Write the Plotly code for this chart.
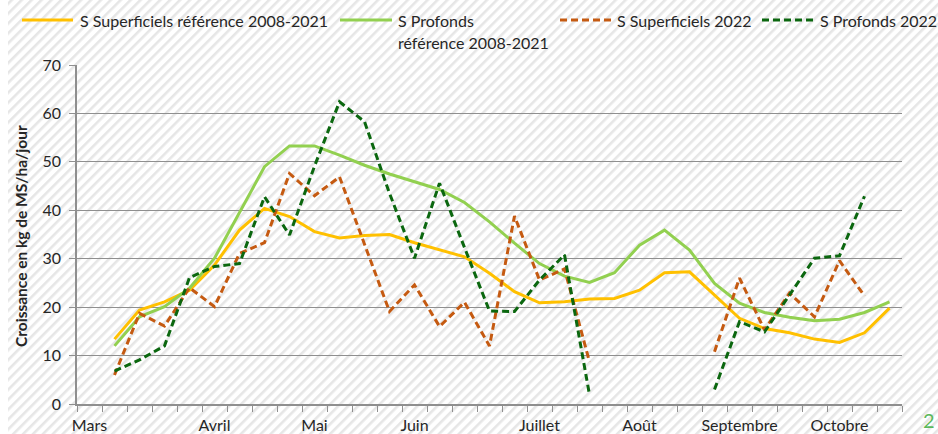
import base64
import plotly.graph_objects as go

# Weekly grass growth (kg DM/ha/day), weeks from early March to end of October
weeks = list(range(33))
month_pos = [0, 5, 9, 13, 18, 22, 26, 30]
month_names = ["Mars", "Avril", "Mai", "Juin", "Juillet", "Août", "Septembre", "Octobre"]

ref_superficiels = [None, 13.4, 19.4, 21.1, 23.5, 28.7, 35.9, 40.4, 38.7, 35.6, 34.3,
                    34.8, 35.0, 33.3, 31.8, 30.4, 27.0, 23.2, 20.9, 21.1, 21.7, 21.8,
                    23.5, 27.1, 27.3, 22.5, 17.7, 15.6, 14.7, 13.4, 12.7, 14.7, 19.8]
ref_profonds = [None, 12.0, 18.0, 20.1, 23.9, 30.1, 39.4, 49.0, 53.3, 53.3, 51.4,
                49.3, 47.5, 45.9, 44.3, 41.6, 37.6, 33.2, 29.0, 26.4, 25.1, 27.1,
                32.8, 35.9, 31.8, 24.9, 20.8, 18.9, 17.9, 17.2, 17.5, 18.9, 21.1]
superficiels_2022 = [None, 6.0, 18.7, 16.1, 24.0, 20.1, 31.1, 33.3, 47.6, 43.0, 46.9,
                     33.0, 19.1, 24.6, 16.0, 21.0, 12.0, 38.8, 25.6, 27.9, 8.7, None,
                     None, None, None, 10.8, 26.0, 15.3, 22.9, 18.0, 29.6, 22.3, None]
profonds_2022 = [None, 6.8, 9.1, 12.0, 26.1, 28.4, 29.0, 42.8, 34.9, 49.1, 62.4,
                 58.3, 43.5, 30.1, 45.6, 32.3, 19.2, 19.1, 25.6, 30.8, 1.9, None,
                 None, None, None, 3.0, 17.0, 14.9, 22.5, 30.1, 30.6, 42.9, None]

y_ticks = [0, 10, 20, 30, 40, 50, 60, 70]

C_REF_SUP = "#FFC000"
C_REF_PRO = "#92D050"
C_SUP_22 = "#C55A11"
C_PRO_22 = "#0B670F"
GRID = "#8F8F8F"
TEXT = "#262626"
DASH = "7px,4px"
FONT = "Lato"

W, H = 938, 434
L, R, T, B = 77, 36, 65, 30
PW, PH = W - L - R, H - T - B


def px_x(x):
    return (x - L) / PW


def px_y(y):
    return (H - B - y) / PH


series = [
    ("S Superficiels référence 2008-2021", ref_superficiels, C_REF_SUP, "solid"),
    ("S Profonds référence 2008-2021", ref_profonds, C_REF_PRO, "solid"),
    ("S Superficiels 2022", superficiels_2022, C_SUP_22, DASH),
    ("S Profonds 2022", profonds_2022, C_PRO_22, DASH),
]

fig = go.Figure()
for name, vals, color, dash in series:
    fig.add_trace(go.Scatter(
        x=weeks, y=vals, name=name, mode="lines", connectgaps=False,
        line=dict(color=color, width=3, dash=dash), showlegend=False,
    ))

# Diagonal hatched page background
svg = (
    f'<svg xmlns="http://www.w3.org/2000/svg" width="{W}" height="{H}">'
    '<defs><pattern id="h" width="7" height="7" patternUnits="userSpaceOnUse" '
    'patternTransform="rotate(45)"><rect width="2.6" height="7" fill="#e6e6e6"/></pattern></defs>'
    f'<rect x="8" y="0" width="{W - 8}" height="{H}" fill="url(#h)"/></svg>'
)
hatch = "data:image/svg+xml;base64," + base64.b64encode(svg.encode()).decode()

# Legend drawn along the top
legend_items = [
    (22, 73, C_REF_SUP, "solid", ["S Superficiels référence 2008-2021"], 78),
    (340, 392, C_REF_PRO, "solid", ["S Profonds", "référence 2008-2021"], 396),
    (560, 612, C_SUP_22, "dash", ["S Superficiels 2022"], 615),
    (762, 815, C_PRO_22, "dash", ["S Profonds 2022"], 818),
]
shapes = []
annotations = []
for x0, x1, color, dash, lines, tx in legend_items:
    shapes.append(dict(
        type="line", xref="paper", yref="paper",
        x0=px_x(x0), x1=px_x(x1), y0=px_y(20), y1=px_y(20),
        line=dict(color=color, width=3, dash=DASH if dash == "dash" else "solid"),
    ))
    for i, txt in enumerate(lines):
        annotations.append(dict(
            text=txt, xref="paper", yref="paper", x=px_x(tx), y=px_y(20 + 22 * i),
            xanchor="left", yanchor="middle", showarrow=False,
            font=dict(family=FONT, size=16, color=TEXT),
        ))

# Y axis title
annotations.append(dict(
    text="<b>Croissance en kg de MS/ha/jour</b>", xref="paper", yref="paper",
    x=px_x(21), y=px_y(236), xanchor="center", yanchor="middle", textangle=-90,
    showarrow=False, font=dict(family=FONT, size=15.5, color=TEXT),
))

# Page number in the bottom-right corner
annotations.append(dict(
    text="2", xref="paper", yref="paper", x=px_x(921), y=px_y(434),
    xanchor="left", yanchor="bottom", showarrow=False,
    font=dict(family=FONT, size=20, color="#5CB85C"),
))

fig.update_layout(
    width=W, height=H,
    margin=dict(l=L, r=R, t=T, b=B, pad=0, autoexpand=False),
    paper_bgcolor="white",
    plot_bgcolor="rgba(0,0,0,0)",
    font=dict(family=FONT, size=16, color=TEXT),
    showlegend=False,
    shapes=shapes,
    annotations=annotations,
    images=[dict(
        source=hatch, xref="paper", yref="paper",
        x=-L / PW, y=1 + T / PH, sizex=W / PW, sizey=H / PH,
        xanchor="left", yanchor="top", sizing="stretch", layer="below",
    )],
    xaxis=dict(
        range=[-0.5, 32.5], tickmode="array", tickvals=month_pos, ticktext=month_names,
        ticks="outside", ticklen=6, tickcolor="rgba(0,0,0,0)", automargin=False,
        showgrid=False, zeroline=False,
        showline=True, linecolor=GRID, linewidth=1.5,
        tickfont=dict(family=FONT, size=16, color=TEXT),
        minor=dict(ticks="outside", ticklen=6, tickwidth=1.3, tickcolor=GRID,
                   tick0=-0.5, dtick=1, showgrid=False),
    ),
    yaxis=dict(
        range=[0, 70], tickmode="array", tickvals=y_ticks, automargin=False,
        ticks="outside", ticklen=6, tickwidth=1.3, tickcolor=GRID,
        showgrid=True, gridcolor=GRID, gridwidth=1.3, zeroline=False,
        showline=True, linecolor=GRID, linewidth=1.5,
        tickfont=dict(family=FONT, size=16, color=TEXT),
        ticklabelstandoff=5,
    ),
)

fig.write_html("out.html")
